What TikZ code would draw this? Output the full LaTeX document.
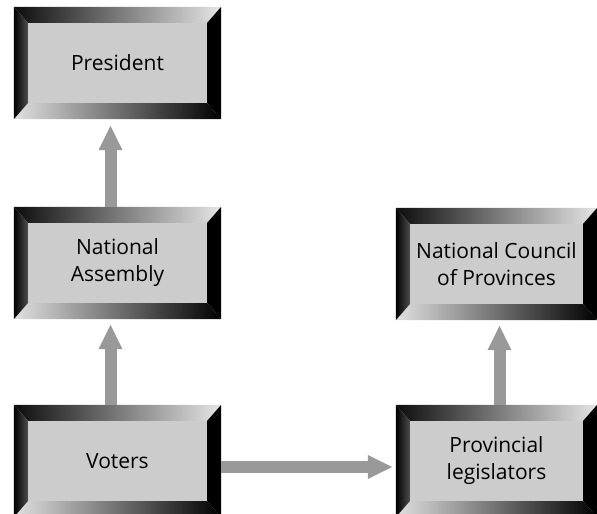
\documentclass[tikz,border=0pt]{standalone}
\usepackage{fontspec}
\setmainfont{Open Sans}
\usetikzlibrary{arrows.meta, calc, backgrounds}

\definecolor{panelgray}{RGB}{204, 204, 204}
\definecolor{flowgray}{RGB}{153, 153, 153}

\tikzset{
    frame/.style={
        rectangle, minimum width=#1, minimum height=112pt,
        inner sep=0pt, font=\fontsize{21}{27}\selectfont,
        align=center, text=black
    },
    flow/.style={
        -{Triangle[width=22pt, length=25pt]},
        line width=12pt, color=flowgray
    }
}

\begin{document}
\begin{tikzpicture}[x=1pt, y=1pt]
    \useasboundingbox (0,0) rectangle (597,514);

    % the five boxes
    \node[frame=207pt] (pres)  at (117.5,451) {President};
    \node[frame=207pt] (na)    at (117.5,251) {National\\Assembly};
    \node[frame=207pt] (voters) at (117.5,53) {Voters};
    \node[frame=201pt] (ncop)  at (496.5,250) {National Council\\of Provinces};
    \node[frame=201pt] (prov)  at (496.5,53) {Provincial\\legislators};

    % bevelled frame behind every box
    \begin{scope}[on background layer]
    \foreach \n in {pres, na, voters, ncop, prov} {
        \coordinate (a) at ($(\n.north west)+(14,-16)$);
        \coordinate (b) at ($(\n.north east)+(-14,-16)$);
        \coordinate (c) at ($(\n.south east)+(-14,16)$);
        \coordinate (d) at ($(\n.south west)+(14,16)$);
        % top
        \shade[left color=black!95, right color=black!10]
            (\n.north west) -- (\n.north east) -- (b) -- (a) -- cycle;
        % right
        \fill[black] (\n.north east) -- (\n.south east) -- (c) -- (b) -- cycle;
        % bottom
        \shade[left color=black!12, right color=black]
            (\n.south west) -- (\n.south east) -- (c) -- (d) -- cycle;
        % left
        \shade[left color=black, right color=black!70]
            (\n.north west) -- (\n.south west) -- (d) -- (a) -- cycle;
        % face
        \fill[panelgray] (a) -- (b) -- (c) -- (d) -- cycle;
    }
    \end{scope}

    % arrows
    \draw[flow, shorten >=6pt] ([xshift=-7pt]na.north) -- ([xshift=-7pt]pres.south);
    \draw[flow, shorten >=5pt] ([xshift=-7pt]voters.north) -- ([xshift=-7pt]na.south);
    \draw[flow, shorten >=5pt] ([xshift=3pt]prov.north) -- ([xshift=3pt]ncop.south);
    \draw[flow, shorten >=3pt] ([yshift=-6pt]voters.east) -- ([yshift=-6pt]prov.west);
\end{tikzpicture}
\end{document}
